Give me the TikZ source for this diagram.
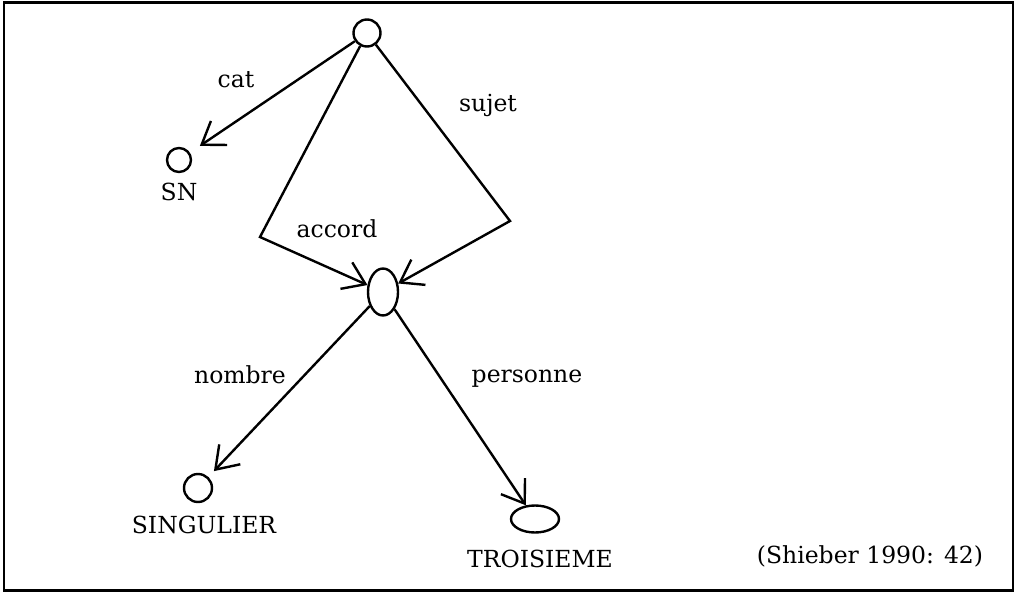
\documentclass[tikz,border=0pt]{standalone}
\usepackage{fontspec}
\setmainfont{DejaVu Serif}
\usetikzlibrary{arrows.meta,shapes.geometric}
\begin{document}
\begin{tikzpicture}[x=1pt,y=-1pt,
  edge/.style={line width=2.4pt, -{Straight Barb[length=21pt,width=29pt,line width=2.4pt]}},
  nd/.style={draw, line width=2.4pt, circle, inner sep=0pt},
  ell/.style={draw, line width=2.4pt, ellipse, inner sep=0pt},
  lbl/.style={anchor=base, font=\fontsize{23.5}{28}\selectfont, inner sep=0pt}]
\useasboundingbox (0,0) rectangle (1017,594);
\draw[line width=2.5pt] (4,2.5) rectangle (1013,590.5);
% nodes
\node[nd, minimum size=27pt] (top) at (367,33) {};
\node[nd, minimum size=24pt] (sn) at (179,160) {};
\node[ell, minimum width=30pt, minimum height=47pt] (acc) at (383,292) {};
\node[nd, minimum size=28pt] (sg) at (198,488) {};
\node[ell, minimum width=48pt, minimum height=27pt] (tr) at (535,519) {};
\coordinate (cl) at (260,237);
\coordinate (cr) at (510,221);
% edges
\draw[edge, shorten >=12pt] (top) -- (sn);
\draw[edge] (top) -- (cl) -- (acc);
\draw[edge] (top) -- (cr) -- (acc);
\draw[edge, shorten >=8pt] (acc) -- (sg);
\draw[edge] (acc) -- (tr);
% labels
\node[lbl] (lcat) at (236,87) {cat};
\node[lbl] (lsujet) at (488,111) {sujet};
\node[lbl] (lacc) at (337,237) {accord};
\node[lbl] (lnom) at (240,383) {nombre};
\node[lbl] (lper) at (527,382) {personne};
\node[lbl] (lsn) at (179,200) {SN};
\node[lbl] (lsg) at (204,533) {SINGULIER};
\node[lbl] (ltr) at (540,567) {TROISIEME};
\node[lbl] (lsrc) at (870,563) {(Shieber 1990: 42)};
\end{tikzpicture}
\end{document}
